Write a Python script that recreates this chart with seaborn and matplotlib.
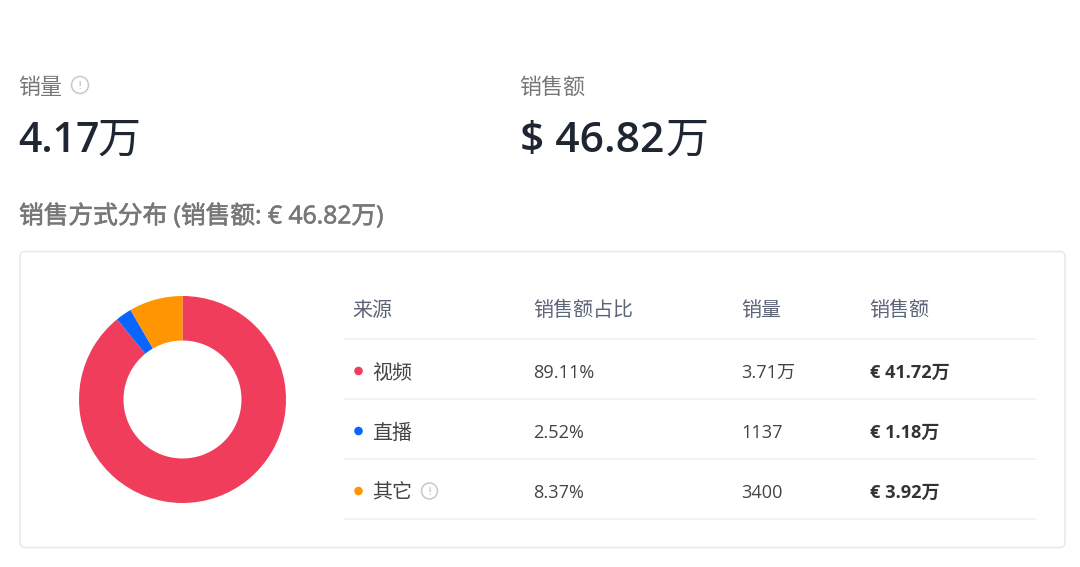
import matplotlib
matplotlib.use("Agg")
import matplotlib.pyplot as plt
import matplotlib.patheffects as pe
from matplotlib.patches import FancyBboxPatch, Circle
import seaborn as sns

sources = ["视频", "直播", "其它"]
share = [89.11, 2.52, 8.37]
share_labels = ["89.11%", "2.52%", "8.37%"]
volume_labels = ["3.71万", "1137", "3400"]
sales_labels = ["€ 41.72万", "€ 1.18万", "€ 3.92万"]
headers = ["来源", "销售额占比", "销量", "销售额"]
colors = ["#F03D5B", "#0A64FF", "#FF9500"]

sns.set_theme(style="white")
plt.rcParams["font.family"] = ["Open Sans", "Noto Sans CJK SC", "DejaVu Sans"]
palette = sns.color_palette(colors)

PX = 0.72  # px -> pt at dpi 100
fig = plt.figure(figsize=(10.8, 5.67), dpi=100, facecolor="white")
bg = fig.add_axes([0, 0, 1, 1])
bg.set_xlim(0, 1080)
bg.set_ylim(567, 0)
bg.axis("off")


def txt(x, y, s, size, color, weight="normal"):
    return bg.text(x, y, s, fontsize=size * PX, color=color, fontweight=weight,
                   ha="left", va="center_baseline")


def info(x, y, r):
    bg.add_patch(Circle((x, y), r, fc="none", ec="#c8c8c8", lw=1.1))
    bg.text(x, y, "!", fontsize=r * 1.3 * PX, color="#b5b5b5", ha="center",
            va="center_baseline", family="DejaVu Sans")


txt(18, 85.5, "销量", 22, "#777777")
info(80, 85, 8.5)
txt(18, 136, "4.17", 41, "#1F2633", "semibold")
txt(97.5, 136, "万", 43, "#1F2633", "medium")
txt(519, 85.5, "销售额", 22, "#777777")
txt(520, 136, "$ 46.82", 42.5, "#1F2633", "semibold")
txt(665.5, 136, "万", 43, "#1F2633", "medium")
title = txt(19, 213.5, "销售方式分布 (销售额: € 46.82万)", 24.7, "#777777", "medium")
title.set_path_effects([pe.withStroke(linewidth=0.45, foreground="#777777")])

bg.add_patch(FancyBboxPatch((20, 251.5), 1045, 296, boxstyle="round,pad=0,rounding_size=5",
                            fc="white", ec="#E6E8EB", lw=1.1))

# header and rows
xs = [352.5, 533.5, 741.5, 869.5]
for x, h in zip(xs, headers):
    txt(x, 309, h, 20, "#5C6478")
for y in [339, 399, 459, 519]:
    bg.plot([344, 1036], [y, y], color="#EDF0F4", lw=1.2, solid_capstyle="butt")

row_y = [371, 431, 491]
bg.scatter([358.5] * 3, row_y, s=38, c=palette, linewidths=0, zorder=3)
for y, src, sh, vol, sal in zip(row_y, sources, share_labels, volume_labels, sales_labels):
    txt(372.5, y, src, 20, "#444444")
    txt(533.5, y, sh, 18.2, "#444444")
    txt(741.5, y, vol, 18.2, "#444444")
    txt(870, y, sal, 18.2, "#333333", "bold")
info(429.5, 491, 8)

# donut
cx, cy, R = 182.5, 399.5, 103.5
ax = fig.add_axes([(cx - R) / 1080, 1 - (cy + R) / 567, 2 * R / 1080, 2 * R / 567])
ax.pie(share, colors=palette, startangle=90, counterclock=False, radius=1,
       wedgeprops=dict(width=0.43, linewidth=0))
ax.set_xlim(-1, 1)
ax.set_ylim(-1, 1)

fig.savefig("out.png", dpi=100)
